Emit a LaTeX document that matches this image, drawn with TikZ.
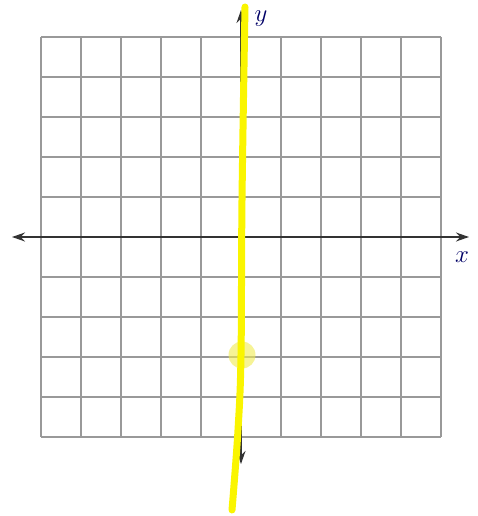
\documentclass[tikz,border=0pt]{standalone}
\usetikzlibrary{arrows.meta}
\definecolor{hlyellow}{RGB}{250,245,0}
\definecolor{dotyellow}{RGB}{240,235,80}
\begin{document}
\begin{tikzpicture}[x=1pt,y=-1pt,
  gridline/.style={draw=gray!80,line width=1.3pt},
  axis/.style={draw=black!80,line width=1.3pt,-{Stealth[length=13pt,width=9pt]}},
  hl/.style={draw=hlyellow,line width=7pt,line cap=round},
  lab/.style={font=\fontsize{23}{25}\selectfont,text=black!60!blue}]
\useasboundingbox (0,0) rectangle (478,516);
\foreach \i in {0,...,10}{
  \draw[gridline] (41+40*\i,37) -- (41+40*\i,437);
  \draw[gridline] (41,37+40*\i) -- (441,37+40*\i);
}
\coordinate (o) at (241,237);
\coordinate (xl) at (12,237);
\coordinate (xr) at (469,237);
\coordinate (yt) at (241,10);
\coordinate (yb) at (241,464);
\draw[axis] (o) -- (xl);
\draw[axis] (o) -- (xr);
\draw[axis] (o) -- (yt);
\draw[axis] (o) -- (yb);
\node[lab] (xlab) at (462,257) {$x$};
\node[lab] (ylab) at (261,19) {$y$};
\coordinate (p) at (242,355);
\fill[dotyellow,opacity=0.6] (p) circle (13.5);
\fill[black!80] (p) circle (2.2);
\coordinate (pa) at (241,360);
\coordinate (pb) at (241,375);
\draw[black!75,line width=1pt,-{Stealth[length=9pt,width=6pt]}] (pa) -- (pb);
\draw[hl] plot[smooth,tension=0.6] coordinates {(245,7) (242,200) (241,355) (238,430) (232,510)};
\end{tikzpicture}
\end{document}
